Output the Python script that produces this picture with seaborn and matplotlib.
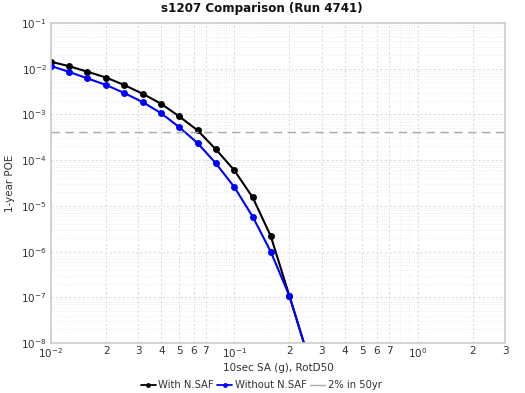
import matplotlib
matplotlib.use("Agg")
import matplotlib.pyplot as plt
import matplotlib.ticker as mticker
from matplotlib.lines import Line2D
import seaborn as sns
import pandas as pd
import numpy as np

sa_g = [0.01, 0.0126, 0.0158, 0.02, 0.0251, 0.0316, 0.0398, 0.05, 0.063, 0.0794,
        0.1, 0.126, 0.158, 0.2, 0.251]
poe_with = [0.0142, 0.0113, 0.0086, 0.0064, 0.0044, 0.00284, 0.00172, 9.1e-4, 4.5e-4,
            1.72e-4, 6.0e-5, 1.53e-5, 2.2e-6, 1.06e-7, 5.5e-9]
poe_without = [0.0115, 0.00847, 0.00615, 0.0044, 0.00294, 0.00187, 0.00107, 5.3e-4,
               2.37e-4, 8.5e-5, 2.58e-5, 5.8e-6, 1.0e-6, 1.06e-7, 5.5e-9]
ref_level = 4.04e-4
title = "s1207 Comparison (Run 4741)"
series_names = ["With N.SAF", "Without N.SAF"]
ref_name = "2% in 50yr"

sns.set_theme(style="white")
plt.rcParams['font.family'] = ['DejaVu Sans']
plt.rcParams['mathtext.fontset'] = 'dejavusans'

df = pd.DataFrame({
    "x": sa_g * 2,
    "y": poe_with + poe_without,
    "series": [series_names[0]] * len(sa_g) + [series_names[1]] * len(sa_g),
})

fig = plt.figure(figsize=(5.25, 3.93), dpi=100)
ax = fig.add_axes([0.0971, 0.127, 0.865, 0.8145])

sns.lineplot(data=df, x="x", y="y", hue="series", palette=["black", "blue"],
             marker="o", markersize=5, markeredgewidth=0, linewidth=1.5, ax=ax,
             legend=False)
ax.axhline(ref_level, color="#aaaaaa", linestyle=(0, (6, 4)), linewidth=1.0)

ax.set_xscale("log")
ax.set_yscale("log")
ax.set_xlim(0.01, 3)
ax.set_ylim(1e-8, 1e-1)

def xfmt(v, pos):
    e = np.log10(v)
    if abs(e - round(e)) < 1e-6:
        return r"$10^{%d}$" % round(e)
    m = v / 10 ** np.floor(e + 1e-9)
    return "%d" % round(m)

ax.xaxis.set_major_locator(mticker.LogLocator(base=10, subs=np.arange(1, 8), numticks=30))
ax.xaxis.set_major_formatter(mticker.FuncFormatter(xfmt))
ax.xaxis.set_minor_locator(mticker.LogLocator(base=10, subs=[8, 9], numticks=30))
ax.xaxis.set_minor_formatter(mticker.NullFormatter())
ax.yaxis.set_major_locator(mticker.LogLocator(base=10, numticks=20))
ax.yaxis.set_major_formatter(mticker.FuncFormatter(lambda v, p: r"$10^{%d}$" % round(np.log10(v))))
ax.yaxis.set_minor_locator(mticker.LogLocator(base=10, subs=np.arange(2, 10), numticks=20))
ax.yaxis.set_minor_formatter(mticker.NullFormatter())

ax.tick_params(axis="both", which="both", length=0, labelsize=7.5, colors="#333333", pad=3)
ax.tick_params(axis="x", pad=2)

ax.grid(True, which="major", axis="both", color="#dddddd", linestyle=(0, (2, 2)), linewidth=0.8)
ax.grid(True, which="minor", axis="both", color="#e6e6e6", linestyle=(0, (1, 2)), linewidth=0.6)

for s in ax.spines.values():
    s.set_color("#cccccc")
    s.set_linewidth(1.2)

fig.text(0.499, 1 - 8.5 / 393, title, fontsize=8.6, fontweight="bold", ha="center", va="center",
         color="#111111")
ax.set_xlabel("10sec SA (g), RotD50", fontsize=7.5, color="#333333")
ax.xaxis.set_label_coords(0.5, -0.061)
ax.set_ylabel("1-year POE", fontsize=7.4, color="#333333")
ax.yaxis.set_label_coords(-0.079, 0.5)

handles = [
    Line2D([], [], color="black", marker="o", markersize=3.5, markeredgewidth=0, linewidth=1.3),
    Line2D([], [], color="blue", marker="o", markersize=3.5, markeredgewidth=0, linewidth=1.3),
    Line2D([], [], color="#aaaaaa", linestyle="-", linewidth=1.0),
]
fig.legend(handles, series_names + [ref_name], loc="center", bbox_to_anchor=(261 / 525, 1 - 385 / 393),
           ncol=3, frameon=False, fontsize=7.2, handlelength=1.5, handletextpad=0.25,
           columnspacing=0.35, labelcolor="#333333", borderpad=0, borderaxespad=0)

fig.savefig("out.png", dpi=100)
